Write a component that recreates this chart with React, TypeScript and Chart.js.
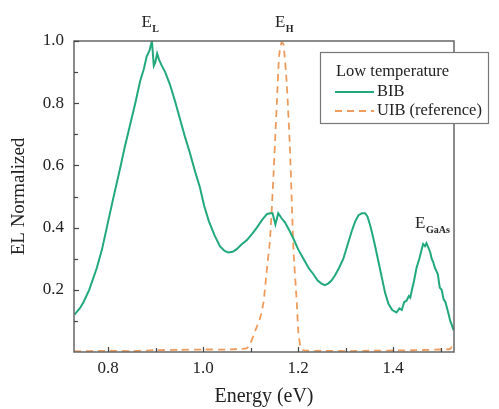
import { useEffect, useRef } from "react";
import { Chart, registerables } from "chart.js";

Chart.register(...registerables);

const FONT = "'Liberation Serif', 'Times New Roman', serif";

const bibEnergy = [
  0.729, 0.74, 0.748, 0.76, 0.776, 0.787, 0.797, 0.81, 0.825, 0.835, 0.846, 0.857, 0.867, 0.875, 0.881,
  0.887, 0.892, 0.896, 0.899, 0.903, 0.907, 0.913, 0.92, 0.93, 0.94, 0.951, 0.962, 0.972, 0.983, 0.993,
  1.002, 1.012, 1.024, 1.035, 1.045, 1.053, 1.062, 1.07, 1.08, 1.092, 1.103, 1.113, 1.124, 1.134, 1.14,
  1.146, 1.152, 1.158, 1.165, 1.172, 1.18, 1.19, 1.2, 1.211, 1.222, 1.232, 1.241, 1.249, 1.256, 1.263,
  1.27, 1.277, 1.286, 1.295, 1.304, 1.313, 1.32, 1.327, 1.334, 1.341, 1.346, 1.351, 1.356, 1.362, 1.369,
  1.376, 1.383, 1.39, 1.398, 1.407, 1.413, 1.418, 1.423, 1.428, 1.433, 1.436, 1.439, 1.444, 1.449, 1.455,
  1.46, 1.463, 1.467, 1.47, 1.474, 1.478, 1.481, 1.484, 1.488, 1.491, 1.494, 1.498, 1.502, 1.506, 1.51,
  1.513, 1.517, 1.52, 1.523, 1.527,
];
const bibValue = [
  0.12, 0.14, 0.16, 0.2, 0.27, 0.33, 0.4, 0.49, 0.59, 0.66, 0.73, 0.8, 0.87, 0.91, 0.95,
  0.97, 1.0, 0.92, 0.93, 0.96, 0.94, 0.92, 0.9, 0.86, 0.81, 0.75, 0.69, 0.64, 0.58, 0.53,
  0.47, 0.42, 0.375, 0.34, 0.325, 0.32, 0.322, 0.33, 0.345, 0.36, 0.38, 0.4, 0.425, 0.443, 0.446,
  0.446, 0.41, 0.446, 0.43, 0.417, 0.395, 0.364, 0.33, 0.3, 0.27, 0.25, 0.23, 0.22, 0.215, 0.22,
  0.23, 0.245, 0.27, 0.3, 0.345, 0.39, 0.42, 0.44, 0.446, 0.446, 0.435, 0.41, 0.38, 0.34, 0.29,
  0.24, 0.19, 0.155, 0.135, 0.127, 0.14, 0.135, 0.16, 0.165, 0.18, 0.175, 0.197, 0.23, 0.27, 0.3,
  0.33, 0.347, 0.34, 0.35, 0.336, 0.32, 0.3, 0.29, 0.27, 0.26, 0.25, 0.207, 0.2, 0.17, 0.16,
  0.143, 0.12, 0.1, 0.089, 0.07,
];

const uibEnergy = [
  0.728, 0.76, 0.8, 0.85, 0.9, 0.95, 1.0, 1.05, 1.08, 1.092, 1.1, 1.11, 1.12, 1.127, 1.133, 1.141,
  1.148, 1.155, 1.16, 1.165, 1.169, 1.176, 1.183, 1.19, 1.197, 1.2, 1.205, 1.212, 1.25, 1.3, 1.35,
  1.4, 1.45, 1.5, 1.52, 1.527,
];
const uibValue = [
  0.002, 0.003, 0.004, 0.003, 0.006, 0.007, 0.008, 0.008, 0.01, 0.012, 0.03, 0.07, 0.11, 0.16, 0.25, 0.37,
  0.57, 0.8, 0.955, 0.995, 0.99, 0.86, 0.64, 0.33, 0.16, 0.07, 0.015, 0.005, 0.004, 0.003, 0.004,
  0.005, 0.006, 0.008, 0.01, 0.03,
];

const seriesNames = ["BIB", "UIB (reference)"];
const legendTitle = "Low temperature";
const xTitle = "Energy (eV)";
const yTitle = "EL Normalized";

const xMajorTicks = [0.8, 1.0, 1.2, 1.4];
const xMinorTicks = [0.9, 1.1, 1.3, 1.5];
const yMajorTicks = [0.2, 0.4, 0.6, 0.8, 1.0];
const yMinorTicks = [0.1, 0.3, 0.5, 0.7, 0.9];

const peakMain = ["E", "E", "E"];
const peakSub = ["L", "H", "GaAs"];
const peakEnergy = [0.87, 1.151, 1.446];
const peakLevel = [1.045, 1.045, 0.399];

const GREEN = "#22a97b";
const ORANGE = "#ee9c5e";

const framePlugin = {
  id: "frame",
  afterDatasetsDraw(chart: any) {
    const { ctx, chartArea: a, scales } = chart;
    const xs = scales.x;
    const ys = scales.y;
    ctx.save();
    ctx.strokeStyle = "#666";
    ctx.lineWidth = 1.5;
    ctx.strokeRect(a.left, a.top, a.right - a.left, a.bottom - a.top);

    ctx.strokeStyle = "#444";
    ctx.lineWidth = 1.2;
    const xt = (vals: number[], len: number) => {
      vals.forEach((v) => {
        const p = Math.round(xs.getPixelForValue(v)) + 0.5;
        ctx.beginPath();
        ctx.moveTo(p, a.bottom);
        ctx.lineTo(p, a.bottom - len);
        ctx.stroke();
      });
    };
    const yt = (vals: number[], len: number) => {
      vals.forEach((v) => {
        const p = Math.round(ys.getPixelForValue(v)) + 0.5;
        ctx.beginPath();
        ctx.moveTo(a.left, p);
        ctx.lineTo(a.left + len, p);
        ctx.stroke();
      });
    };
    xt(xMajorTicks, 5);
    xt(xMinorTicks, 4);
    yt(yMajorTicks, 5);
    yt(yMinorTicks, 4);

    // peak labels
    ctx.fillStyle = "#222";
    ctx.textBaseline = "alphabetic";
    ctx.textAlign = "left";
    peakMain.forEach((m, i) => {
      const px = xs.getPixelForValue(peakEnergy[i]);
      const py = ys.getPixelForValue(peakLevel[i]);
      ctx.font = `17px ${FONT}`;
      ctx.fillText(m, px, py);
      const w = ctx.measureText(m).width;
      ctx.font = `bold 10px ${FONT}`;
      ctx.fillText(peakSub[i], px + w + 0.5, py + 5);
    });

    // legend
    const lx = 320;
    const ly = 52;
    const lw = 168;
    const lh = 71;
    ctx.fillStyle = "#fff";
    ctx.fillRect(lx, ly, lw, lh);
    ctx.strokeStyle = "#777";
    ctx.lineWidth = 1.2;
    ctx.strokeRect(lx + 0.5, ly + 0.5, lw, lh);
    ctx.fillStyle = "#222";
    ctx.font = `16.5px ${FONT}`;
    ctx.textBaseline = "middle";
    ctx.fillText(legendTitle, lx + 16, ly + 20);
    ctx.lineWidth = 2;
    ctx.strokeStyle = GREEN;
    ctx.beginPath();
    ctx.moveTo(lx + 15, ly + 40);
    ctx.lineTo(lx + 54, ly + 40);
    ctx.stroke();
    ctx.fillText(seriesNames[0], lx + 57, ly + 40);
    ctx.strokeStyle = ORANGE;
    ctx.setLineDash([7, 5]);
    ctx.beginPath();
    ctx.moveTo(lx + 15, ly + 59);
    ctx.lineTo(lx + 54, ly + 59);
    ctx.stroke();
    ctx.setLineDash([]);
    ctx.fillText(seriesNames[1], lx + 57, ly + 59);
    ctx.restore();
  },
};

export default function App() {
  const ref = useRef<HTMLCanvasElement | null>(null);
  useEffect(() => {
    if (!ref.current) return;
    const chart = new Chart(ref.current, {
      type: "line",
      data: {
        datasets: [
          {
            label: seriesNames[0],
            data: bibEnergy.map((x, i) => ({ x, y: bibValue[i] })),
            borderColor: GREEN,
            borderWidth: 2,
            pointRadius: 0,
            tension: 0,
            fill: false,
          },
          {
            label: seriesNames[1],
            data: uibEnergy.map((x, i) => ({ x, y: uibValue[i] })),
            borderColor: ORANGE,
            borderWidth: 1.8,
            borderDash: [7, 5],
            pointRadius: 0,
            tension: 0.2,
            fill: false,
          },
        ],
      },
      options: {
        animation: false,
        responsive: false,
        maintainAspectRatio: false,
        layout: { padding: { top: 41, right: 45, bottom: 0, left: 0 } },
        plugins: { legend: { display: false }, tooltip: { enabled: false } },
        scales: {
          x: {
            type: "linear",
            min: 0.728,
            max: 1.528,
            afterBuildTicks: (s: any) => {
              s.ticks = xMajorTicks.map((v) => ({ value: v }));
            },
            afterFit: (s: any) => {
              s.height = 57;
            },
            grid: { display: false, drawTicks: false },
            border: { display: false },
            ticks: {
              padding: 6,
              color: "#222",
              autoSkip: false,
              maxRotation: 0,
              font: { family: FONT, size: 17 },
              callback: (v: any) => Number(v).toFixed(1),
            },
            title: {
              display: true,
              text: xTitle,
              color: "#222",
              font: { family: FONT, size: 20 },
              padding: { top: 0, bottom: 0 },
            },
          },
          y: {
            type: "linear",
            min: 0,
            max: 1.0,
            afterBuildTicks: (s: any) => {
              s.ticks = yMajorTicks.map((v) => ({ value: v }));
            },
            afterFit: (s: any) => {
              s.width = 74;
            },
            grid: { display: false, drawTicks: false },
            border: { display: false },
            ticks: {
              padding: 10,
              color: "#222",
              font: { family: FONT, size: 17 },
              callback: (v: any) => Number(v).toFixed(1),
            },
            title: {
              display: true,
              text: yTitle,
              color: "#222",
              font: { family: FONT, size: 19 },
              padding: { top: 8, bottom: 0 },
            },
          },
        },
      },
      plugins: [framePlugin],
    } as any);
    return () => chart.destroy();
  }, []);
  return (
    <div style={{ position: "fixed", left: 0, top: 0, width: 499, height: 409, background: "#fff" }}>
      <canvas ref={ref} width={499} height={409} style={{ width: 499, height: 409, display: "block" }} />
    </div>
  );
}
